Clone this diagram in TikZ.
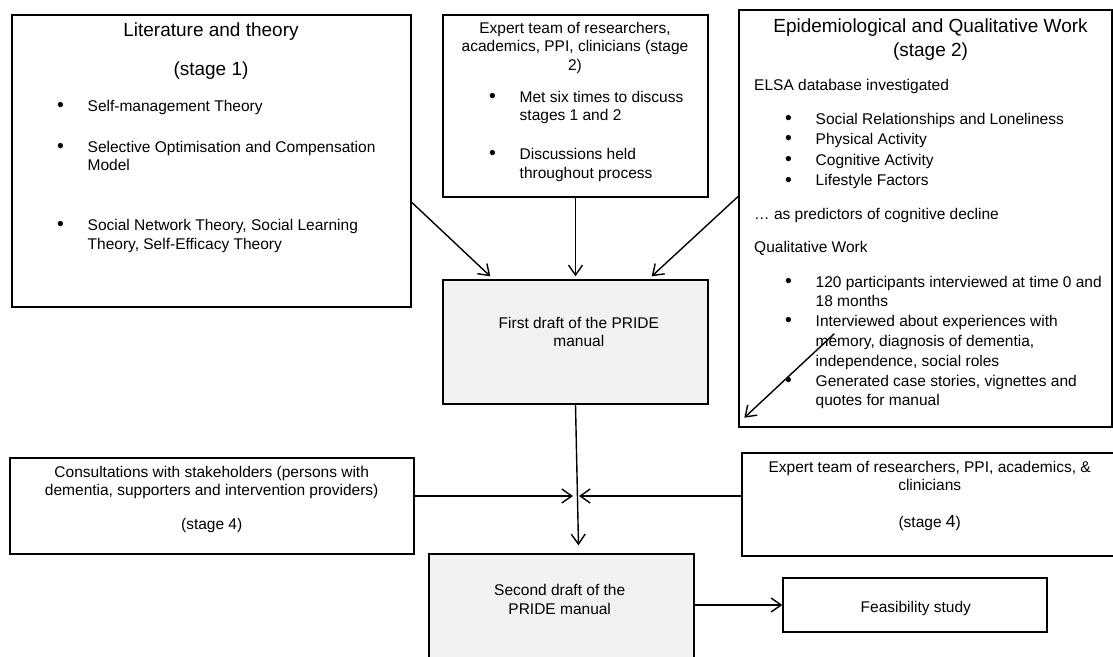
\documentclass[tikz,border=0pt]{standalone}
\usepackage{fontspec}
\setmainfont{Liberation Sans}
\usetikzlibrary{arrows.meta}
\definecolor{draftgray}{RGB}{242,242,242}
\newcommand{\blist}[1]{\begin{tabular}[t]{@{}p{30.7pt}@{}l@{}}#1\end{tabular}}
\newcommand{\clines}[1]{\begin{tabular}[t]{@{}c@{}}#1\end{tabular}}
\newcommand{\bul}{\raisebox{-0.3pt}{\scalebox{1.25}{\textbullet}}}
\begin{document}
\begin{tikzpicture}[x=1pt,y=-1pt,
    box/.style={draw,line width=1.4pt,inner sep=0pt},
    txt/.style={inner sep=0pt,font=\fontsize{15.5}{18.5}\selectfont},
    ttl/.style={inner sep=0pt,font=\fontsize{19}{24}\selectfont},
    arr/.style={line width=1.4pt,-{Straight Barb[length=10pt,width=14pt]}}]
  \clip (0,0) rectangle (1113,656);
  % boxes
  \node[box,minimum width=399pt,minimum height=292pt] (lit) at (211.5,161) {};
  \node[box,minimum width=265pt,minimum height=182pt] (expA) at (575.5,106) {};
  \node[box,minimum width=373pt,minimum height=417pt] (epid) at (925.5,218.5) {};
  \node[box,fill=draftgray,minimum width=265pt,minimum height=124pt] (draft1) at (575.5,342) {};
  \node[box,minimum width=404pt,minimum height=96pt] (consult) at (212,506) {};
  \node[box,minimum width=378pt,minimum height=103pt] (expB) at (931,504.5) {};
  \node[box,fill=draftgray,minimum width=265pt,minimum height=126pt] (draft2) at (561.5,617) {};
  \node[box,minimum width=264pt,minimum height=54pt] (feas) at (915,605) {};
  % stage 1
  \node[ttl,anchor=base] (littitle) at (211,36) {Literature and theory};
  \node[ttl,anchor=base] (litstage) at (211,75) {(stage 1)};
  \node[txt,anchor=base west] (litlist) at (56.8,111) {\blist{%
    \bul & Self-management Theory\\[22.5pt]
    \bul & Selective Optimisation and Compensation\\
    & Model\\[41.5pt]
    \bul & Social Network Theory, Social Learning\\
    & Theory, Self-Efficacy Theory}};
  % expert team, stage 2
  \node[txt,anchor=base] (expAtitle) at (575,33) {\clines{%
    Expert team of researchers,\\academics, PPI, clinicians (stage\\2)}};
  \node[txt,anchor=base west] (expAlist) at (488.8,102) {\blist{%
    \bul & Met six times to discuss\\
    & stages 1 and 2\\[20.5pt]
    \bul & Discussions held\\
    & throughout process}};
  % epidemiological work, stage 2
  \node[ttl,anchor=base] (epidtitle) at (930.5,32) {Epidemiological and Qualitative Work};
  \node[ttl,anchor=base] (epidstage) at (930.5,56) {(stage 2)};
  \node[txt,anchor=base west] (epidelsa) at (754,90) {ELSA database investigated};
  \node[txt,anchor=base west,font=\fontsize{15.5}{20.6}\selectfont] (epidlistA) at (784.8,124) {\blist{%
    \bul & Social Relationships and Loneliness\\
    \bul & Physical Activity\\
    \bul & Cognitive Activity\\
    \bul & Lifestyle Factors}};
  \node[txt,anchor=base west] (epidpred) at (754,219) {… as predictors of cognitive decline};
  \node[txt,anchor=base west] (epidqual) at (754,252) {Qualitative Work};
  \node[txt,anchor=base west,font=\fontsize{15.5}{19.8}\selectfont] (epidlistB) at (784.8,287) {\blist{%
    \bul & 120 participants interviewed at time 0 and\\
    & 18 months\\
    \bul & Interviewed about experiences with\\
    & memory, diagnosis of dementia,\\
    & independence, social roles\\
    \bul & Generated case stories, vignettes and\\
    & quotes for manual}};
  % drafts and stage 4
  \node[txt,anchor=base] (draft1text) at (578.8,328) {\clines{First draft of the PRIDE\\manual}};
  \node[txt,anchor=base,font=\fontsize{15.5}{18}\selectfont] (consulttext) at (211.7,477) {\clines{%
    Consultations with stakeholders (persons with\\
    dementia, supporters and intervention providers)\\[16pt]
    (stage 4)}};
  \node[txt,anchor=base,font=\fontsize{15.5}{18}\selectfont] (expBtext) at (929.7,472) {\clines{%
    Expert team of researchers, PPI, academics, \&\\
    clinicians\\[19pt]
    (stage {\fontsize{17.5}{18}\selectfont 4})}};
  \node[txt,anchor=base] (draft2text) at (559.7,595.7) {\clines{Second draft of the\\PRIDE manual}};
  \node[txt,anchor=base] (feastext) at (915.8,612) {Feasibility study};
  % connectors
  \coordinate (join) at (577,496);
  \draw[arr] ([yshift=-188pt]lit.north east) -- ([xshift=48pt,yshift=3pt]draft1.north west);
  \draw[arr] (expA.south) -- ([yshift=3pt]draft1.north);
  \draw[arr] ([yshift=-187pt]epid.north west) -- ([xshift=-57pt,yshift=3pt]draft1.north east);
  \draw[arr] ([xshift=96pt,yshift=94pt]epid.south west) -- ([xshift=6pt,yshift=10pt]epid.south west);
  \draw[arr] (draft1.south) -- ([xshift=17pt,yshift=8pt]draft2.north);
  \draw[arr] (consult.east |- join) -- ([xshift=-4pt]join);
  \draw[arr] (expB.west |- join) -- ([xshift=2pt]join);
  \draw[arr] (draft2.east |- feas.west) -- (feas.west);
\end{tikzpicture}
\end{document}
